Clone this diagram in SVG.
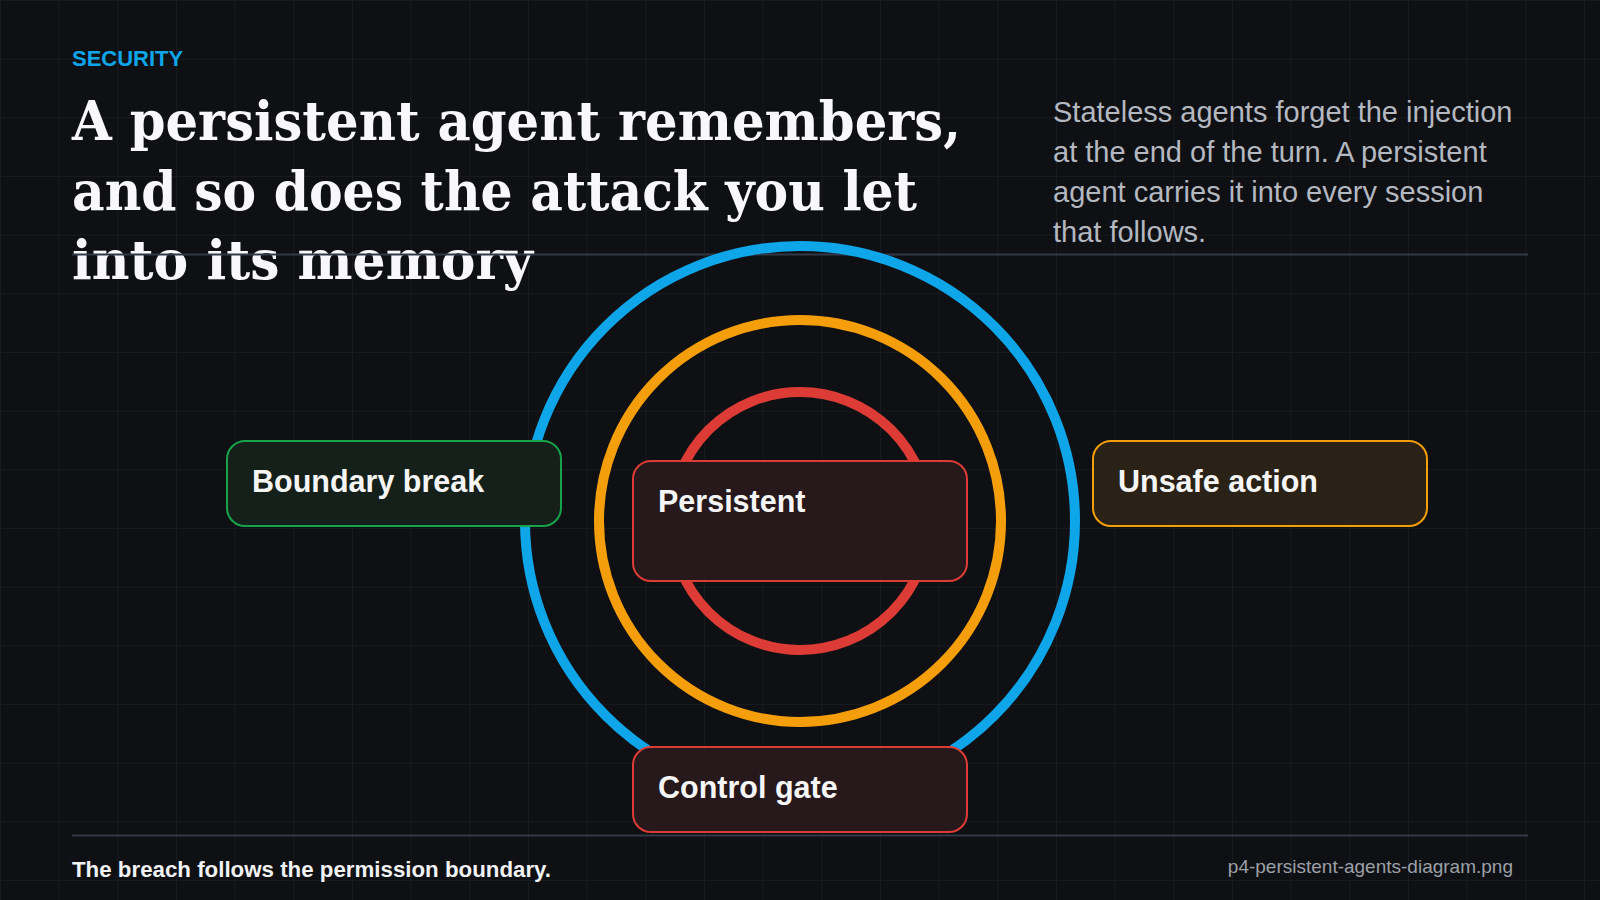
<svg xmlns="http://www.w3.org/2000/svg" width="1600" height="900" viewBox="0 0 1600 900">
  <defs>
    <pattern id="grid" width="58.667" height="58.667" patternUnits="userSpaceOnUse">
      <path d="M0 0 H58.667 M0 0 V58.667" stroke="#1b1d23" stroke-width="1.4" fill="none"/>
    </pattern>
    <style>
      .eyebrow { font-family: "Liberation Sans", Arial, sans-serif; font-weight: 700; font-size: 22px; fill: #0ea5e9; }
      .title { font-family: "DejaVu Serif", Georgia, serif; font-weight: 700; font-size: 54px; fill: #f8f8fa; }
      .desc { font-family: "Liberation Sans", Arial, sans-serif; font-size: 29px; fill: #b4b8c0; }
      .rule { stroke: #323946; stroke-width: 2; }
      .ring { fill: none; stroke-width: 10; }
      .box { stroke-width: 2; }
      .label { font-family: "Liberation Sans", Arial, sans-serif; font-weight: 700; font-size: 30.5px; fill: #f5f5f5; }
      .foot { font-family: "Liberation Sans", Arial, sans-serif; font-weight: 700; font-size: 22.3px; fill: #f1f2f4; }
      .file { font-family: "Liberation Sans", Arial, sans-serif; font-size: 19px; fill: #9ca0a8; }
    </style>
  </defs>

  <rect x="0" y="0" width="1600" height="900" fill="#0f1013"/>
  <rect x="0" y="0" width="1600" height="900" fill="url(#grid)"/>

  <g id="header">
    <text class="eyebrow" x="72" y="66">SECURITY</text>
    <text class="title" x="72" y="140" textLength="889" lengthAdjust="spacingAndGlyphs">A persistent agent remembers,</text>
    <text class="title" x="72" y="209.5" textLength="845" lengthAdjust="spacingAndGlyphs">and so does the attack you let</text>
    <text class="title" x="72" y="279" textLength="461" lengthAdjust="spacingAndGlyphs">into its memory</text>
    <text class="desc" x="1053" y="122">Stateless agents forget the injection</text>
    <text class="desc" x="1053" y="162">at the end of the turn. A persistent</text>
    <text class="desc" x="1053" y="202">agent carries it into every session</text>
    <text class="desc" x="1053" y="242">that follows.</text>
    <line class="rule" x1="72" y1="254.5" x2="1528" y2="254.5"/>
  </g>

  <g id="rings">
    <circle class="ring" cx="800" cy="521" r="275" stroke="#0ea5e9"/>
    <circle class="ring" cx="800" cy="521" r="201" stroke="#f59e0b"/>
    <circle class="ring" cx="800" cy="521" r="129" stroke="#dc3c35"/>
  </g>

  <g id="connectors"></g>

  <g id="node-boundary-break">
    <rect class="box" x="227" y="441" width="334" height="85" rx="18" fill="#15201a" stroke="#16a34a"/>
    <text class="label" x="252" y="492">Boundary break</text>
  </g>
  <g id="node-persistent">
    <rect class="box" x="633" y="461" width="334" height="120" rx="18" fill="#26181b" stroke="#dc3c35"/>
    <text class="label" x="658" y="512">Persistent</text>
  </g>
  <g id="node-unsafe-action">
    <rect class="box" x="1093" y="441" width="334" height="85" rx="18" fill="#2a2216" stroke="#f59e0b"/>
    <text class="label" x="1118" y="492">Unsafe action</text>
  </g>
  <g id="node-control-gate">
    <rect class="box" x="633" y="747" width="334" height="85" rx="18" fill="#26181b" stroke="#dc3c35"/>
    <text class="label" x="658" y="798">Control gate</text>
  </g>

  <g id="footer">
    <line class="rule" x1="72" y1="835.5" x2="1528" y2="835.5"/>
    <text class="foot" x="72" y="877">The breach follows the permission boundary.</text>
    <text class="file" x="1513" y="873" text-anchor="end">p4-persistent-agents-diagram.png</text>
  </g>
</svg>
